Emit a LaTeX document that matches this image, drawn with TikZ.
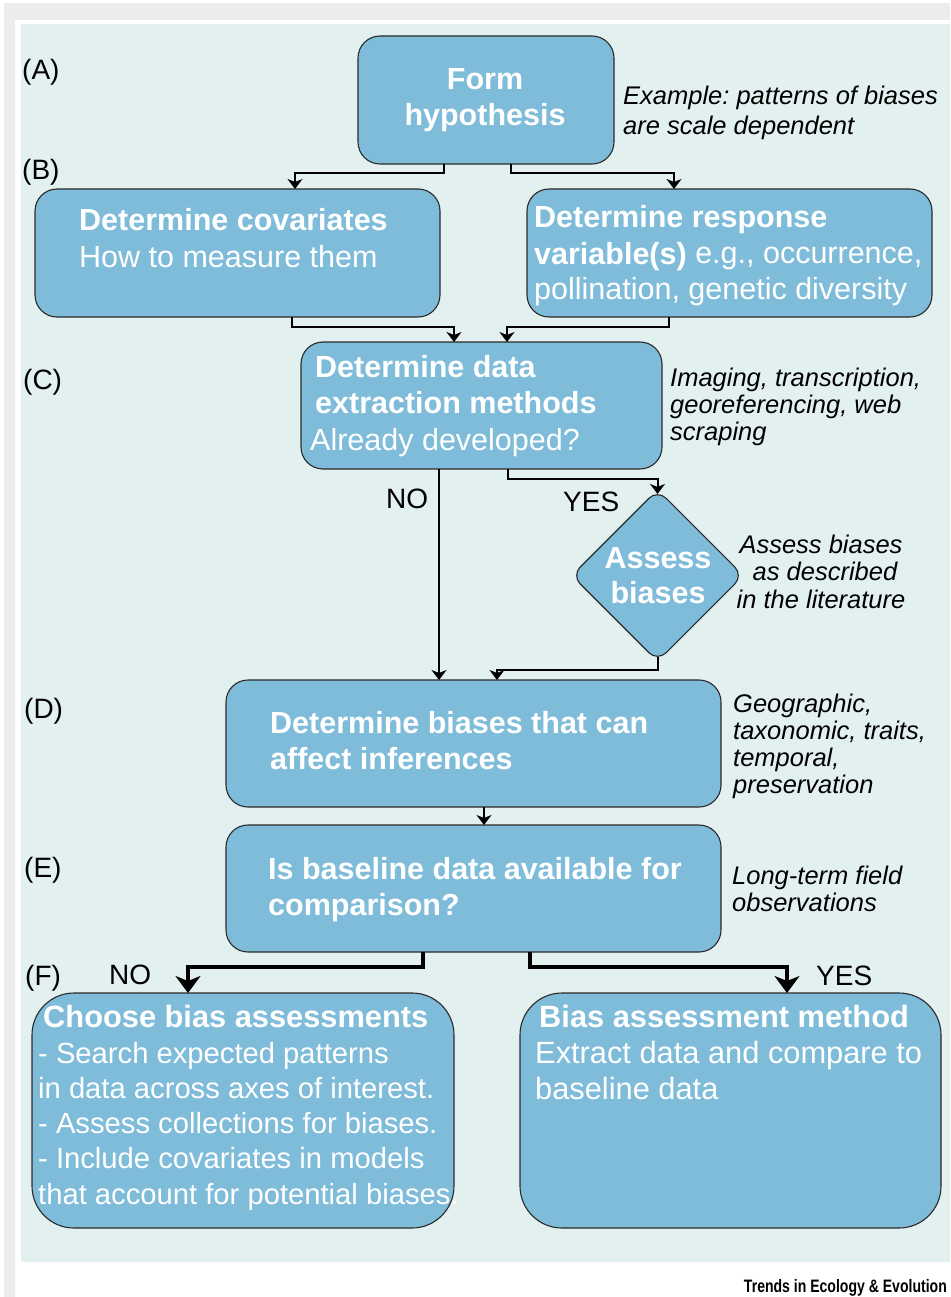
\documentclass[tikz,border=0pt]{standalone}
\usepackage{fontspec}
\setmainfont{Liberation Sans}
\usetikzlibrary{shapes.geometric,arrows.meta,calc}
\definecolor{panel}{HTML}{E3F0F0}
\definecolor{boxfill}{HTML}{7EBCDA}
\definecolor{framegray}{HTML}{ECECEE}
\definecolor{edge}{HTML}{2A2A2A}
\newcommand\mylines[2]{\begin{tabular}[t]{@{}#1@{}}#2\end{tabular}}
\frenchspacing
\tikzset{
  box/.style={draw=edge, line width=1.1pt, fill=boxfill, anchor=north west, inner sep=0pt, outer sep=0pt, rounded corners=22pt},
  btext/.style={text=white, anchor=base west, inner sep=0pt, font=\fontsize{30.5}{36}\selectfont},
  note/.style={anchor=base west, inner sep=0pt},
  lab/.style={anchor=base west, inner sep=0pt, font=\fontsize{28}{30}\selectfont},
  arr/.style={line width=2pt, -{Stealth[length=10pt,width=15pt,inset=3pt]}},
  arrbig/.style={line width=3.5pt, -{Stealth[length=17pt,width=25pt,inset=5pt]}},
}
\begin{document}
\begin{tikzpicture}[x=1pt,y=-1pt]
\useasboundingbox (0,0) rectangle (950,1297);
\fill[white] (0,0) rectangle (950,1297);
\fill[framegray] (4,3) rectangle (950,1297);
\fill[white] (15,20) rectangle (950,1297);
\fill[panel] (21,24) rectangle (950,1262);

% boxes
\node[box, minimum width=256, minimum height=128] (form) at (358,36) {};
\node[box, minimum width=405, minimum height=128] (cov) at (35,189) {};
\node[box, minimum width=405, minimum height=128] (resp) at (527,189) {};
\node[box, minimum width=361, minimum height=127] (ext) at (301,342) {};
\node[draw=edge, line width=1.1pt, fill=boxfill, diamond, aspect=1, inner sep=0pt, minimum width=172, minimum height=172, rounded corners=12pt] (diam) at (657.5,575.5) {};
\node[box, minimum width=495, minimum height=127] (bias) at (226,680) {};
\node[box, minimum width=495, minimum height=127] (base) at (226,825) {};
\node[box, minimum width=422, minimum height=235, rounded corners=42pt] (choose) at (32,993) {};
\node[box, minimum width=421, minimum height=235, rounded corners=42pt] (method) at (520,993) {};

% box texts
\node[btext, anchor=base, font=\fontsize{30.5}{36}\selectfont\bfseries] (tform) at (485,90) {\mylines{c}{Form\\hypothesis}};
\node[btext] (tcov) at (79,231) {\mylines{l}{\textbf{Determine covariates}\\How to measure them}};
\node[btext] (tresp) at (534,228) {\mylines{l}{\textbf{Determine response}\\\textbf{variable(s)} e.g., occurrence,\\pollination, genetic diversity}};
\node[btext, font=\fontsize{30.5}{36.5}\selectfont] (text) at (315,377) {\mylines{l}{\textbf{Determine data}\\\textbf{extraction methods}\\\hspace*{-5pt}Already developed?}};
\node[btext, anchor=base, font=\fontsize{30.5}{35}\selectfont\bfseries] (tdiam) at (658,568) {\mylines{c}{Assess\\biases}};
\node[btext, font=\fontsize{30.5}{36}\selectfont\bfseries] (tbias) at (270,733) {\mylines{l}{Determine biases that can\\affect inferences}};
\node[btext, font=\fontsize{30.5}{36}\selectfont\bfseries] (tbase) at (268,879) {\mylines{l}{Is baseline data available for\\comparison?}};
\node[btext, font=\fontsize{30.8}{36}\selectfont\bfseries] (tchooseh) at (43,1027) {Choose bias assessments};
\node[btext, font=\fontsize{29.2}{35.3}\selectfont] (tchoose) at (38,1063) {\mylines{l}{- Search expected patterns\\in data across axes of interest.\\- Assess collections for biases.\\- Include covariates in models\\that account for potential biases.}};
\node[btext, font=\fontsize{30.8}{36}\selectfont\bfseries] (tmethodh) at (539,1027) {Bias assessment method};
\node[btext, font=\fontsize{30.8}{36}\selectfont] (tmethod) at (535,1063) {\mylines{l}{Extract data and compare to\\baseline data}};

% notes
\node[note, font=\fontsize{25.5}{30}\selectfont\itshape] (na) at (623,105) {\mylines{l}{Example: patterns of biases\\are scale dependent}};
\node[note, font=\fontsize{25.5}{27}\selectfont\itshape] (nc) at (670,386) {\mylines{l}{Imaging, transcription,\\georeferencing, web\\scraping}};
\node[note, anchor=base, font=\fontsize{25.5}{27.5}\selectfont\itshape] (ndiam) at (821,553) {\mylines{c}{Assess biases\\\hspace*{8pt}as described\\in the literature}};
\node[note, font=\fontsize{25.5}{27.3}\selectfont\itshape] (nd) at (733,712) {\mylines{l}{Geographic,\\taxonomic, traits,\\temporal,\\preservation}};
\node[note, font=\fontsize{25.5}{27.5}\selectfont\itshape] (ne) at (732,884) {\mylines{l}{Long-term field\\observations}};

% labels
\node[lab] (la) at (22,80) {(A)};
\node[lab] (lb) at (22,180) {(B)};
\node[lab] (lc) at (23,389) {(C)};
\node[lab] (ld) at (24,718) {(D)};
\node[lab] (le) at (24,877) {(E)};
\node[lab] (lf) at (25,985) {(F)};
\node[lab] (no1) at (386,508) {NO};
\node[lab] (yes1) at (563,511) {YES};
\node[lab] (no2) at (109,984) {NO};
\node[lab] (yes2) at (816,985) {YES};

\node[anchor=base east, inner sep=0pt, font=\fontsize{18}{19}\selectfont\bfseries] (credit) at (947,1292) {\scalebox{0.78}[1]{Trends in Ecology \& Evolution}};

% connectors
\draw[arr] ($(form.south west)+(86,0)$) -- ++(0,9) -| ($(cov.north west)+(260,0)$);
\draw[arr] ($(form.south west)+(153,0)$) -- ++(0,9) -| ($(resp.north west)+(147,0)$);
\draw[arr] ($(cov.south west)+(257,0)$) -- ++(0,10) -| ($(ext.north west)+(153,0)$);
\draw[arr] ($(resp.south west)+(142,0)$) -- ++(0,10) -| ($(ext.north west)+(206,0)$);
\draw[arr] ($(ext.south west)+(138,0)$) -- ($(bias.north west)+(213,0)$);
\draw[arr] ($(ext.south west)+(207,0)$) -- ++(0,10) -| ($(diam.north)+(0,5)$);
\draw[arr] ($(diam.south)+(0,-5)$) -- ++(0,13) -| ($(bias.north west)+(271,0)$);
\draw[arr] ($(bias.south west)+(258,0)$) -- ($(base.north west)+(258,0)$);
\draw[arrbig] ($(base.south west)+(197,0)$) -- ++(0,15) -| ($(choose.north west)+(156,0)$);
\draw[arrbig] ($(base.south west)+(304,0)$) -- ++(0,15) -| ($(method.north west)+(267,0)$);
\end{tikzpicture}
\end{document}
